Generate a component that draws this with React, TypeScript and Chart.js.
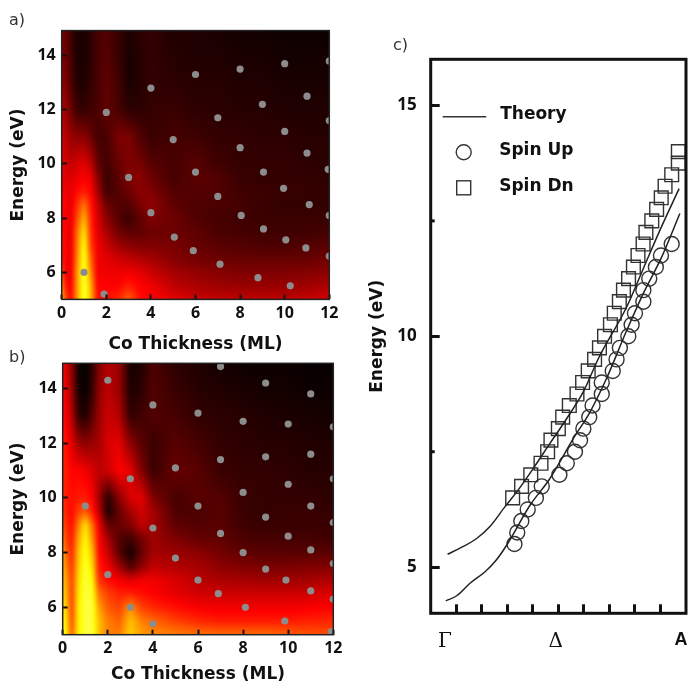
import React, { useEffect, useRef } from "react";
import { Chart, registerables } from "chart.js";

Chart.register(...registerables);

const heatX = [0, 0.15, 0.4, 0.7, 1, 1.3, 1.6, 2, 2.5, 3, 3.5, 4, 5, 6, 7, 8, 9, 10, 11, 12];
const heatY = [5, 5.5, 6, 6.5, 7, 7.5, 8, 8.5, 9, 9.5, 10, 11, 12, 13, 14, 15];

// intensity on the "hot" scale: 0 black, 40 red, 80 yellow, 100 white
const heatA = [
  [70, 55, 40, 65, 85, 70, 42, 42, 45, 55, 42, 40, 36, 32, 30, 30, 30, 30, 31, 34],
  [65, 45, 38, 65, 85, 68, 40, 40, 40, 45, 40, 38, 30, 27, 25, 24, 24, 24, 25, 27],
  [55, 40, 36, 65, 85, 62, 38, 38, 37, 38, 36, 32, 26, 23, 21, 20, 20, 20, 21, 22],
  [45, 40, 36, 62, 84, 56, 38, 36, 33, 30, 28, 26, 21, 18, 17, 16, 16, 16, 16, 18],
  [45, 40, 36, 60, 82, 50, 38, 32, 25, 22, 20, 20, 19, 16, 14, 13, 12, 12, 13, 14],
  [42, 40, 36, 58, 76, 48, 36, 27, 18, 14, 15, 17, 17, 15, 12, 11, 10, 10, 10, 11],
  [40, 40, 36, 52, 68, 46, 34, 22, 14, 9, 15, 20, 17, 13, 11, 10, 9, 9, 9, 9],
  [40, 40, 36, 47, 58, 44, 32, 17, 13, 13, 19, 23, 15, 12, 12, 11, 9, 8, 8, 8],
  [40, 38, 36, 42, 44, 40, 26, 10, 13, 17, 22, 20, 13, 13, 13, 10, 9, 9, 8, 8],
  [38, 36, 34, 37, 39, 37, 22, 9, 14, 20, 22, 17, 11, 14, 13, 9, 8, 8, 8, 7],
  [36, 34, 30, 34, 35, 30, 16, 10, 16, 20, 19, 14, 11, 14, 10, 8, 8, 8, 7, 7],
  [34, 30, 24, 22, 22, 17, 11, 11, 19, 20, 13, 9, 11, 10, 8, 8, 7, 7, 6, 6],
  [28, 25, 17, 9, 8, 10, 12, 15, 12, 7, 7, 8, 9, 7, 7, 6, 6, 5, 5, 5],
  [24, 21, 13, 5, 5, 8, 11, 15, 11, 4, 6, 8, 7, 6, 6, 5, 5, 4, 4, 4],
  [20, 18, 11, 4, 4, 7, 11, 14, 9, 4, 6, 8, 6, 5, 5, 4, 4, 3, 3, 3],
  [18, 16, 10, 4, 4, 7, 11, 13, 9, 5, 7, 8, 5, 5, 4, 3, 3, 2, 2, 2],
];

const heatB = [
  [85, 78, 55, 78, 85, 85, 70, 60, 60, 72, 65, 62, 60, 58, 57, 57, 57, 55, 53, 52],
  [82, 75, 52, 78, 85, 85, 70, 60, 55, 70, 60, 56, 50, 46, 44, 44, 44, 44, 45, 46],
  [78, 72, 50, 78, 85, 85, 65, 54, 50, 62, 50, 46, 42, 39, 38, 38, 38, 38, 39, 40],
  [75, 68, 50, 76, 85, 83, 58, 50, 45, 45, 42, 40, 36, 33, 32, 32, 32, 32, 33, 35],
  [72, 65, 50, 74, 85, 80, 48, 42, 38, 35, 38, 38, 34, 29, 27, 26, 25, 25, 26, 28],
  [70, 60, 48, 72, 84, 75, 44, 38, 25, 12, 22, 30, 28, 26, 22, 20, 19, 19, 20, 20],
  [68, 55, 46, 70, 82, 70, 42, 32, 14, 3, 16, 26, 24, 22, 18, 15, 14, 14, 14, 14],
  [62, 50, 44, 66, 80, 64, 40, 26, 13, 10, 18, 25, 20, 16, 15, 12, 11, 11, 11, 10],
  [55, 47, 42, 60, 76, 58, 38, 16, 16, 20, 30, 26, 15, 13, 14, 10, 9, 9, 9, 9],
  [50, 44, 41, 50, 55, 45, 30, 4, 16, 26, 33, 26, 12, 12, 14, 9, 8, 9, 9, 8],
  [48, 44, 42, 44, 44, 40, 26, 6, 22, 34, 36, 20, 11, 14, 13, 9, 8, 8, 8, 7],
  [46, 44, 40, 40, 38, 34, 30, 32, 40, 36, 20, 9, 16, 14, 9, 8, 8, 7, 6, 6],
  [45, 42, 35, 25, 22, 24, 26, 34, 36, 22, 14, 9, 14, 11, 8, 7, 6, 6, 5, 5],
  [42, 38, 28, 8, 5, 14, 24, 32, 28, 8, 10, 13, 11, 8, 7, 6, 5, 4, 4, 3],
  [40, 36, 24, 3, 1, 8, 22, 30, 24, 4, 7, 13, 9, 6, 5, 4, 3, 3, 2, 2],
  [38, 34, 22, 2, 1, 6, 20, 28, 24, 3, 5, 12, 7, 5, 3, 2, 2, 2, 1, 1],
];

const dotsAx = [1, 1.9, 2, 3, 4, 4, 5, 5.05, 6, 6, 5.9, 7, 7, 7.1, 8, 8, 8.05, 8.8, 9, 9.05, 9.05, 10, 10, 9.95, 10.05, 10.25, 11, 11, 11.1, 10.95, 12, 12, 11.95, 12, 12];
const dotsAy = [6, 5.2, 11.9, 9.5, 12.8, 8.2, 10.9, 7.3, 13.3, 9.7, 6.8, 11.7, 8.8, 6.3, 13.5, 10.6, 8.1, 5.8, 12.2, 9.7, 7.6, 13.7, 11.2, 9.1, 7.2, 5.5, 12.5, 10.4, 8.5, 6.9, 13.8, 11.6, 9.8, 8.1, 6.6];
const dotsBx = [1, 2, 2, 3, 3, 4, 4, 4, 5, 5, 6, 6, 6, 7, 7, 7, 6.9, 8, 8, 8, 8.1, 9, 9, 9, 9, 10, 10, 10, 9.9, 9.85, 11, 11, 11, 11, 11, 12, 12, 12, 12, 12, 11.9];
const dotsBy = [9.7, 14.3, 7.2, 10.7, 6, 13.4, 8.9, 5.4, 11.1, 7.8, 13.1, 9.7, 7, 14.8, 11.4, 8.7, 6.5, 12.8, 10.2, 8, 6, 14.2, 11.5, 9.3, 7.4, 12.7, 10.5, 8.6, 7, 5.5, 13.8, 11.6, 9.7, 8.1, 6.6, 12.6, 10.7, 9.1, 7.6, 6.3, 5.1];

const heatXTicks = [0, 2, 4, 6, 8, 10, 12];
const heatYTicks = [6, 8, 10, 12, 14];

const theoryUpperX = [0.66, 1.15, 1.8, 2.32, 2.91, 3.37, 4.02, 4.67, 5.33, 5.98, 6.57, 7.68, 8.33, 8.98, 9.73];
const theoryUpperY = [5.28, 5.41, 5.62, 5.88, 6.31, 6.63, 7.14, 7.68, 8.22, 8.8, 9.52, 10.64, 11.47, 12.3, 13.2];
const theoryLowerX = [0.59, 1.02, 1.54, 2.13, 2.52, 2.98, 3.89, 4.67, 5.59, 6.24, 6.89, 7.68, 8.33, 9.05, 9.76];
const theoryLowerY = [4.27, 4.38, 4.65, 4.9, 5.12, 5.48, 6.34, 6.92, 7.79, 8.36, 9.09, 10.13, 10.93, 11.72, 12.66];

const spinUpX = [3.28, 3.39, 3.55, 3.8, 4.12, 4.35, 5.04, 5.33, 5.65, 5.85, 5.98, 6.21, 6.34, 6.7, 6.7, 7.13, 7.28, 7.41, 7.74, 7.87, 8.0, 8.33, 8.33, 8.56, 8.82, 9.02, 9.44];
const spinUpY = [5.5, 5.75, 6, 6.25, 6.5, 6.75, 7, 7.25, 7.5, 7.75, 8, 8.25, 8.5, 8.75, 9, 9.25, 9.5, 9.75, 10, 10.25, 10.5, 10.75, 11, 11.25, 11.5, 11.75, 12];
const spinDnX = [3.21, 3.56, 3.92, 4.32, 4.58, 4.71, 5.0, 5.17, 5.43, 5.73, 5.95, 6.17, 6.42, 6.61, 6.81, 7.04, 7.19, 7.39, 7.55, 7.75, 7.94, 8.12, 8.32, 8.43, 8.66, 8.85, 9.03, 9.18, 9.44, 9.7, 9.7];
const spinDnY = [6.5, 6.75, 7, 7.25, 7.5, 7.75, 8, 8.25, 8.5, 8.75, 9, 9.25, 9.5, 9.75, 10, 10.25, 10.5, 10.75, 11, 11.25, 11.5, 11.75, 12, 12.25, 12.5, 12.75, 13, 13.25, 13.5, 13.75, 14];

const bandXTicks = [1, 2, 3, 4, 5, 6, 7, 8, 9];
const bandYTicks = [5, 7.5, 10, 12.5, 15];
const bandYMinor = [7.5, 12.5];
const symmetryPositions = [0.56, 4.9, 9.8];
const symmetryLabels = ["Γ", "Δ", "A"];

const TICK_FONT = "'Noto Sans'";
const TITLE_FONT = "'DejaVu Sans'";
const INK = "#111";

const pairs = (xs: number[], ys: number[]) => xs.map((x, i) => ({ x, y: ys[i] }));
const fixTicks = (values: number[]) => (scale: any) => {
  scale.ticks = values.map((value) => ({ value }));
};
const clearPadding = (s: any) => {
  s.paddingLeft = 0;
  s.paddingRight = 0;
  s.paddingTop = 0;
  s.paddingBottom = 0;
};

function hot(v: number): [number, number, number] {
  const t = Math.max(0, Math.min(100, v));
  return [
    Math.min(255, (t / 40) * 255),
    t < 40 ? 0 : Math.min(255, ((t - 40) / 40) * 255),
    t < 80 ? 0 : ((t - 80) / 20) * 255,
  ];
}

function locate(axis: number[], v: number): [number, number] {
  let i = 0;
  while (i < axis.length - 2 && v > axis[i + 1]) i++;
  const f = (v - axis[i]) / (axis[i + 1] - axis[i]);
  return [i, Math.max(0, Math.min(1, f))];
}

const heatPlugin = (rows: number[][]) => ({
  id: "heat",
  beforeDatasetsDraw(chart: any) {
    const { ctx, chartArea: a, scales } = chart;
    const w = Math.ceil(a.right - a.left);
    const h = Math.ceil(a.bottom - a.top);
    const off = document.createElement("canvas");
    off.width = w;
    off.height = h;
    const octx = off.getContext("2d")!;
    const img = octx.createImageData(w, h);
    for (let py = 0; py < h; py++) {
      const [j, fy] = locate(heatY, scales.y.getValueForPixel(a.top + py + 0.5));
      for (let px = 0; px < w; px++) {
        const [i, fx] = locate(heatX, scales.x.getValueForPixel(a.left + px + 0.5));
        const v =
          rows[j][i] * (1 - fx) * (1 - fy) +
          rows[j][i + 1] * fx * (1 - fy) +
          rows[j + 1][i] * (1 - fx) * fy +
          rows[j + 1][i + 1] * fx * fy;
        const [r, g, b] = hot(v);
        const k = (py * w + px) * 4;
        img.data[k] = r;
        img.data[k + 1] = g;
        img.data[k + 2] = b;
        img.data[k + 3] = 255;
      }
    }
    octx.putImageData(img, 0, 0);
    ctx.save();
    ctx.beginPath();
    ctx.rect(a.left, a.top, a.right - a.left, a.bottom - a.top);
    ctx.clip();
    ctx.drawImage(off, a.left, a.top);
    ctx.filter = "blur(1.5px)";
    ctx.drawImage(off, a.left, a.top);
    ctx.restore();
  },
});

const framePlugin = (width: number, color: string) => ({
  id: "frame",
  afterDraw(chart: any) {
    const { ctx, chartArea: a } = chart;
    ctx.save();
    ctx.strokeStyle = color;
    ctx.lineWidth = width;
    ctx.strokeRect(a.left, a.top, a.right - a.left, a.bottom - a.top);
    ctx.restore();
  },
});

const bandDecorPlugin = {
  id: "bandDecor",
  afterDraw(chart: any) {
    const { ctx, chartArea: a, scales } = chart;
    ctx.save();
    ctx.strokeStyle = INK;
    ctx.lineWidth = 3;
    bandYMinor.forEach((v) => {
      const y = scales.y.getPixelForValue(v);
      ctx.beginPath();
      ctx.moveTo(a.left, y);
      ctx.lineTo(a.left + 4, y);
      ctx.stroke();
    });
    // legend, from the datasets' own labels and styles
    const ds = chart.data.datasets;
    const lx = a.left + 33;
    ctx.fillStyle = INK;
    ctx.font = "bold 17px 'DejaVu Sans'";
    ctx.textBaseline = "middle";
    ctx.fillText(ds[0].label, a.left + 69.5, a.top + 55);
    ctx.fillText(ds[2].label, a.left + 68.5, a.top + 91);
    ctx.fillText(ds[3].label, a.left + 68.5, a.top + 127);
    ctx.lineWidth = 1.4;
    ctx.strokeStyle = "#333";
    ctx.beginPath();
    ctx.moveTo(a.left + 12, a.top + 57.5);
    ctx.lineTo(a.left + 55.5, a.top + 57.5);
    ctx.stroke();
    ctx.beginPath();
    ctx.arc(lx, a.top + 93, ds[2].pointRadius, 0, Math.PI * 2);
    ctx.stroke();
    ctx.strokeRect(lx - 7, a.top + 121.5, 14, 14);
    ctx.restore();
  },
};

function heatConfig(rows: number[][], xs: number[], ys: number[], geo: any) {
  const tickFont = { family: TICK_FONT, size: 16, weight: "bold" as const };
  const titleFont = { family: TITLE_FONT, size: 17, weight: "bold" as const };
  return {
    type: "scatter" as const,
    data: {
      datasets: [
        {
          label: "Measured",
          data: pairs(xs, ys),
          pointRadius: 3.6,
          pointBackgroundColor: "#8c8c8c",
          pointBorderWidth: 0,
          clip: 0,
        },
      ],
    },
    plugins: [heatPlugin(rows), framePlugin(1.5, "#222")],
    options: {
      animation: false as const,
      responsive: false,
      layout: {
        autoPadding: false,
        padding: { top: geo.top, right: geo.right, left: 0, bottom: 0 },
      },
      plugins: { legend: { display: false }, tooltip: { enabled: false } },
      scales: {
        x: {
          type: "linear" as const,
          min: 0,
          max: 12,
          afterBuildTicks: fixTicks(heatXTicks),
          afterFit: (s: any) => {
            s.height = geo.xh;
            clearPadding(s);
          },
          border: { display: false },
          grid: { drawOnChartArea: false, tickLength: -5, tickWidth: 2, tickColor: INK, z: 2 },
          ticks: { font: tickFont, color: INK, padding: 9, maxRotation: 0, autoSkip: false },
          title: {
            display: true,
            text: "Co Thickness (ML)",
            font: titleFont,
            color: INK,
            padding: { top: geo.xtp, bottom: 0 },
          },
        },
        y: {
          type: "linear" as const,
          min: 5,
          max: 14.92,
          afterBuildTicks: fixTicks(heatYTicks),
          afterFit: (s: any) => {
            s.width = geo.left;
            clearPadding(s);
          },
          border: { display: false },
          grid: { drawOnChartArea: false, tickLength: -5, tickWidth: 2, tickColor: INK, z: 2 },
          ticks: { font: tickFont, color: INK, padding: 11, autoSkip: false },
          title: {
            display: true,
            text: "Energy (eV)",
            font: titleFont,
            color: INK,
            padding: { top: 8, bottom: 0 },
          },
        },
      },
    },
  };
}

function bandConfig() {
  const line = { showLine: true, pointRadius: 0, borderColor: "#222", borderWidth: 1.5, cubicInterpolationMode: "monotone" as const, fill: false };
  const marker = { showLine: false, backgroundColor: "transparent", borderColor: "#333", pointBorderWidth: 1.4, clip: false as const };
  return {
    type: "scatter" as const,
    data: {
      datasets: [
        { label: "Theory", data: pairs(theoryUpperX, theoryUpperY), ...line },
        { label: "Theory", data: pairs(theoryLowerX, theoryLowerY), ...line },
        { label: "Spin Up", data: pairs(spinUpX, spinUpY), pointStyle: "circle", pointRadius: 7.5, ...marker },
        { label: "Spin Dn", data: pairs(spinDnX, spinDnY), pointStyle: "rect", pointRadius: 9.7, ...marker },
      ],
    },
    plugins: [bandDecorPlugin, framePlugin(3, INK)],
    options: {
      animation: false as const,
      responsive: false,
      layout: {
        autoPadding: false,
        padding: { top: 29.3, right: 5, left: 0, bottom: 0 },
      },
      plugins: { legend: { display: false }, tooltip: { enabled: false } },
      scales: {
        x: {
          type: "linear" as const,
          min: 0,
          max: 10,
          afterBuildTicks: fixTicks(bandXTicks),
          afterFit: (s: any) => {
            s.height = 0;
            clearPadding(s);
          },
          border: { display: false },
          grid: { drawOnChartArea: false, tickLength: -9, tickWidth: 3, tickColor: INK, z: 2 },
          ticks: { display: false },
        },
        sym: {
          type: "linear" as const,
          axis: "x" as const,
          position: "bottom" as const,
          min: 0,
          max: 10,
          afterBuildTicks: fixTicks(symmetryPositions),
          afterFit: (s: any) => {
            s.height = 71.7;
            clearPadding(s);
          },
          border: { display: false },
          grid: { display: false },
          ticks: {
            autoSkip: false,
            maxRotation: 0,
            padding: 8,
            color: INK,
            callback: (_v: any, i: number) => symmetryLabels[i],
            font: (c: any) =>
              c.index === 2
                ? { family: "'Liberation Sans'", size: 18, weight: "bold" as const }
                : { family: "'DejaVu Serif'", size: 20, weight: "normal" as const },
          },
        },
        y: {
          type: "linear" as const,
          min: 4,
          max: 16,
          afterBuildTicks: fixTicks(bandYTicks),
          afterFit: (s: any) => {
            s.width = 70.7;
            clearPadding(s);
          },
          border: { display: false },
          grid: {
            drawOnChartArea: false,
            tickLength: -9,
            tickWidth: 3,
            z: 2,
            tickColor: (c: any) => (c.tick && bandYMinor.includes(c.tick.value) ? "transparent" : INK),
          },
          ticks: {
            font: { family: TICK_FONT, size: 17, weight: "bold" as const },
            color: INK,
            padding: 23,
            autoSkip: false,
            callback: (v: any) => (bandYMinor.includes(v) ? "" : String(v)),
          },
          title: {
            display: true,
            text: "Energy (eV)",
            font: { family: TITLE_FONT, size: 17, weight: "bold" as const },
            color: INK,
            padding: { top: 7, bottom: 0 },
          },
        },
      },
    },
  };
}

const canvasStyle = (left: number, top: number, w: number, h: number): React.CSSProperties => ({
  position: "absolute",
  left,
  top,
  width: w,
  height: h,
});

const panelLabel = (left: number, top: number): React.CSSProperties => ({
  position: "absolute",
  left,
  top,
  font: "16px 'DejaVu Sans'",
  color: "#333",
  lineHeight: "18px",
});

export default function App() {
  const a = useRef<HTMLCanvasElement>(null);
  const b = useRef<HTMLCanvasElement>(null);
  const c = useRef<HTMLCanvasElement>(null);

  useEffect(() => {
    const charts = [
      new Chart(a.current!, heatConfig(heatA, dotsAx, dotsAy, { top: 30.6, right: 15.7, left: 61.7, xh: 55.6, xtp: 3.4 }) as any),
      new Chart(b.current!, heatConfig(heatB, dotsBx, dotsBy, { top: 23.3, right: 11.7, left: 62.7, xh: 50.3, xtp: 1.4 }) as any),
      new Chart(c.current!, bandConfig() as any),
    ];
    return () => charts.forEach((ch) => ch.destroy());
  }, []);

  return (
    <div style={{ position: "absolute", left: 0, top: 0, width: 691, height: 685, overflow: "hidden", background: "#fff" }}>
      <canvas ref={a} width={345} height={355} style={canvasStyle(0, 0, 345, 355)} />
      <canvas ref={b} width={345} height={345} style={canvasStyle(0, 340, 345, 345)} />
      <canvas ref={c} width={331} height={655} style={canvasStyle(360, 30, 331, 655)} />
      <div style={panelLabel(9, 11)}>a)</div>
      <div style={panelLabel(9, 348)}>b)</div>
      <div style={panelLabel(393, 36)}>c)</div>
    </div>
  );
}
